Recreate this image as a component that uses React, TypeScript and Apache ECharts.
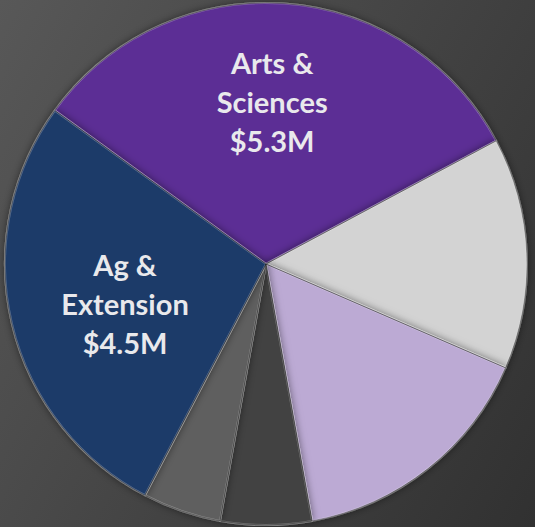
import React, { useEffect, useRef } from "react";
import * as echarts from "echarts";

const categories = ["Arts & Sciences", "Unit B", "Unit C", "Unit D", "Unit E", "Ag & Extension"];
const values = [5.3, 2.36, 2.58, 0.93, 0.8, 4.5];
const labels = ["Arts &\nSciences\n$5.3M", "", "", "", "", "Ag &\nExtension\n$4.5M"];
const colors = ["#5c2e95", "#d3d3d3", "#bcaad4", "#424242", "#5e5e5e", "#1d3b69"];
const labelOffsets: Array<[number, number]> = [[-3, -29], [0, 0], [0, 0], [0, 0], [0, 0], [-11, 9]];

export default function App() {
  const ref = useRef<HTMLDivElement>(null);
  useEffect(() => {
    if (!ref.current) return;
    const chart = echarts.init(ref.current, undefined, { renderer: "svg" });
    const data = categories.map((name, i) => ({
      name,
      value: values[i],
      itemStyle: { color: colors[i] },
      label: {
        show: labels[i] !== "",
        formatter: labels[i],
        offset: labelOffsets[i],
      },
    }));
    chart.setOption({
      animation: false,
      backgroundColor: {
        type: "linear",
        x: 0,
        y: 0,
        x2: 1.19,
        y2: 0.646,
        colorStops: [
          { offset: 0, color: "#585858" },
          { offset: 1, color: "#313131" },
        ],
      },
      series: [
        {
          type: "pie",
          center: [266, 264],
          radius: [0, 261],
          startAngle: 144,
          clockwise: true,
          avoidLabelOverlap: false,
          emphasis: { disabled: true },
          label: {
            position: "inside",
            color: "#e9e9ec",
            fontFamily: "Lato",
            fontWeight: "bold",
            fontSize: 29,
            lineHeight: 39,
            align: "center",
          },
          labelLine: { show: false },
          itemStyle: {
            borderColor: "rgba(255,255,255,0.28)",
            borderWidth: 2,
            shadowBlur: 8,
            shadowColor: "rgba(0,0,0,0.55)",
          },
          data,
        },
        {
          type: "pie",
          center: [266, 264],
          radius: [0, 261],
          startAngle: 144,
          clockwise: true,
          silent: true,
          emphasis: { disabled: true },
          label: { show: false },
          labelLine: { show: false },
          itemStyle: {
            color: "transparent",
            borderColor: "rgba(0,0,0,0.35)",
            borderWidth: 0.8,
          },
          data: categories.map((name, i) => ({ name, value: values[i] })),
        },
      ],
    });
    return () => chart.dispose();
  }, []);
  return (
    <div
      ref={ref}
      style={{ position: "fixed", left: 0, top: 0, width: 535, height: 527 }}
    />
  );
}
